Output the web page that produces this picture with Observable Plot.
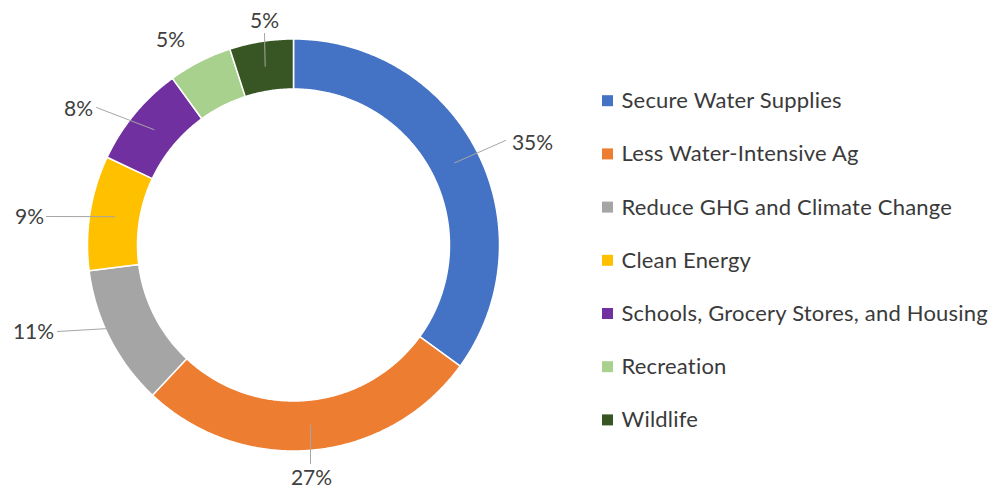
<!DOCTYPE html>
<html><head><meta charset="utf-8">
<script src="https://cdn.jsdelivr.net/npm/d3@7"></script>
<script src="https://cdn.jsdelivr.net/npm/@observablehq/plot@0.6"></script>
<style>html,body{margin:0;padding:0;background:#fff} .legend text{letter-spacing:0.2px}</style>
</head><body><div id="chart"></div>
<script>
// ---- data ----
const categories = ["Secure Water Supplies", "Less Water-Intensive Ag", "Reduce GHG and Climate Change", "Clean Energy", "Schools, Grocery Stores, and Housing", "Recreation", "Wildlife"];
const shares = [35, 27, 11, 9, 8, 5, 5];
const pctLabels = ["35%", "27%", "11%", "9%", "8%", "5%", "5%"];
const colors = ["#4472C4", "#ED7D31", "#A5A5A5", "#FFC000", "#7030A0", "#A9D18E", "#375623"];

// ---- layout ----
const W = 995, H = 489, cx = 293, cy = 244.5, R = 206, r = 156;
const labelPos = [[532, 143], [311, 478], [33, 332], [29, 217], [78, 109], [170, 40], [264, 21]];
const leaderFrom = [[505, 140], [310, 463], [57, 331], [46, 216], [96, 107], null, [264, 33]];
const legendX = 602, legendTop = 100.7, legendStep = 53.2, sq = 11;

const pt = (a, rho) => [cx + rho * Math.sin(a), cy - rho * Math.cos(a)];
const arcs = d3.pie().sort(null).value(d => d)(shares);

const polys = [];
arcs.forEach((a, i) => {
  const n = Math.max(4, Math.ceil((a.endAngle - a.startAngle) / (Math.PI / 360)));
  const pts = [];
  for (let k = 0; k <= n; k++) pts.push(pt(a.startAngle + (a.endAngle - a.startAngle) * k / n, R));
  for (let k = n; k >= 0; k--) pts.push(pt(a.startAngle + (a.endAngle - a.startAngle) * k / n, r));
  pts.push(pts[0]);
  pts.forEach(([x, y]) => polys.push({cat: categories[i], x, y}));
});

const leaders = [];
arcs.forEach((a, i) => {
  if (!leaderFrom[i]) return;
  const mid = (a.startAngle + a.endAngle) / 2;
  const [mx, my] = pt(mid, (R + r) / 2);
  leaders.push({id: i, x: leaderFrom[i][0], y: leaderFrom[i][1]});
  leaders.push({id: i, x: mx, y: my});
});

const labelData = pctLabels.map((t, i) => ({t, x: labelPos[i][0], y: labelPos[i][1]}));
const legendData = categories.map((c, i) => ({c, y: legendTop + i * legendStep}));

const chart = Plot.plot({
  width: W, height: H, margin: 0,
  x: {domain: [0, W], range: [0, W], axis: null},
  y: {domain: [0, H], range: [0, H], axis: null},
  color: {domain: categories, range: colors},
  style: {fontFamily: "Lato, 'Noto Sans', sans-serif", background: "#fff"},
  marks: [
    Plot.line(polys, {x: "x", y: "y", z: "cat", fill: "cat", stroke: "#fff", strokeWidth: 1.5, curve: "linear"}),
    Plot.line(leaders, {x: "x", y: "y", z: "id", stroke: "#A6A6A6", strokeWidth: 1}),
    Plot.text(labelData, {x: "x", y: "y", text: "t", fontSize: 21, fill: "#404040"}),
    Plot.rect(legendData, {x1: legendX, x2: legendX + sq, y1: d => d.y - sq / 2, y2: d => d.y + sq / 2, fill: "c"}),
    Plot.text(legendData, {x: legendX + 19, y: "y", text: "c", textAnchor: "start", fontSize: 22, fill: "#3a3a3a", className: "legend"})
  ]
});
document.getElementById("chart").appendChild(chart);
</script>
</body></html>
